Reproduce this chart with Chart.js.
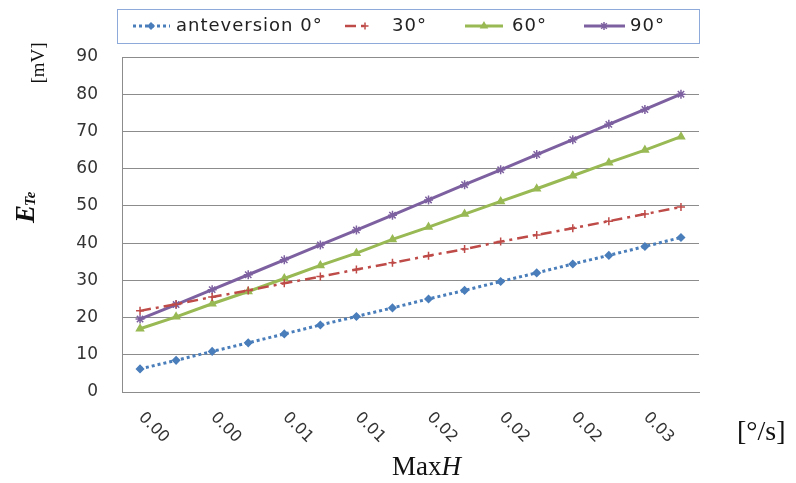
<!DOCTYPE html>
<html>
<head>
<meta charset="utf-8">
<script src="https://cdn.jsdelivr.net/npm/chart.js@4.4.1/dist/chart.umd.min.js"></script>
<style>
  html, body { margin: 0; padding: 0; background: #fff; }
  #wrap { width: 796px; height: 483px; position: relative; }
</style>
</head>
<body>
<div id="wrap"><canvas id="chart" width="796" height="483"></canvas></div>
<script>
// MaxH categories [°/s]
const maxH = ["0.000", "0.002", "0.004", "0.006", "0.008", "0.010", "0.012", "0.014",
              "0.016", "0.018", "0.020", "0.022", "0.024", "0.026", "0.028", "0.030"];
// shown every other category
const xTickLabels = ["0.00", "0.00", "0.01", "0.01", "0.02", "0.02", "0.02", "0.03"];
const yTicks = [0, 10, 20, 30, 40, 50, 60, 70, 80, 90];

// E_Te [mV]
const ante0  = [6.2, 8.5, 10.9, 13.2, 15.6, 18.0, 20.3, 22.6, 25.0, 27.3, 29.7, 32.0, 34.4, 36.7, 39.1, 41.5];
const ante30 = [21.8, 23.6, 25.5, 27.3, 29.2, 31.0, 32.9, 34.7, 36.6, 38.4, 40.4, 42.2, 44.0, 45.9, 47.8, 49.7];
const ante60 = [17.0, 20.2, 23.7, 27.0, 30.5, 34.0, 37.3, 41.0, 44.3, 47.8, 51.2, 54.6, 58.1, 61.6, 65.0, 68.6];
const ante90 = [19.6, 23.5, 27.5, 31.5, 35.5, 39.5, 43.5, 47.5, 51.6, 55.7, 59.7, 63.8, 67.8, 71.9, 75.9, 80.0];

const seriesNames = ["anteversion 0°", "30°", "60°", "90°"];

// legend layout (sample line start/end, marker x, text x)
const legendSlots = [
  { x1: 133, x2: 170, mx: 151, tx: 176 },
  { x1: 345, x2: 369, mx: 365, tx: 392 },
  { x1: 465, x2: 503, mx: 484, tx: 512 },
  { x1: 584, x2: 625, mx: 604, tx: 630 }
];

const decor = {
  id: "decor",
  afterDraw(chart) {
    const ctx = chart.ctx;
    const xs = chart.scales.x;

    // x tick labels, rotated clockwise
    ctx.save();
    ctx.fillStyle = "#333";
    ctx.font = "16px 'DejaVu Sans'";
    ctx.textAlign = "left";
    ctx.textBaseline = "middle";
    xTickLabels.forEach((lab, i) => {
      const x = xs.getPixelForValue(i * 2);
      ctx.save();
      ctx.translate(x + 1, 415);
      ctx.rotate(Math.PI / 4);
      ctx.fillText(lab, 0, 0);
      ctx.restore();
    });
    ctx.restore();

    // axis titles
    ctx.save();
    ctx.fillStyle = "#111";
    ctx.textBaseline = "alphabetic";
    // y: E_Te
    ctx.save();
    ctx.translate(34, 223);
    ctx.rotate(-Math.PI / 2);
    ctx.textAlign = "left";
    ctx.font = "italic bold 27px 'Liberation Serif'";
    ctx.fillText("E", 0, 0);
    const ew = ctx.measureText("E").width;
    ctx.font = "italic bold 15px 'Liberation Serif'";
    ctx.fillText("Te", ew - 1, 1);
    ctx.restore();
    // y unit
    ctx.save();
    ctx.translate(44, 63);
    ctx.rotate(-Math.PI / 2);
    ctx.textAlign = "center";
    ctx.font = "19px 'Liberation Serif'";
    ctx.fillText("[mV]", 0, 0);
    ctx.restore();
    // x: MaxH
    ctx.textAlign = "left";
    ctx.font = "27px 'Liberation Serif'";
    ctx.fillText("Max", 392, 475);
    const mw = ctx.measureText("Max").width;
    ctx.font = "italic 27px 'Liberation Serif'";
    ctx.fillText("H", 392 + mw, 475);
    // x unit
    ctx.font = "28px 'Liberation Serif'";
    ctx.fillText("[°/s]", 737, 440);
    ctx.restore();

    // legend
    ctx.save();
    ctx.strokeStyle = "#8eaadb";
    ctx.lineWidth = 1;
    ctx.strokeRect(117.5, 9.5, 582, 34);
    const ly = 26;
    chart.data.datasets.forEach((ds, i) => {
      const s = legendSlots[i];
      ctx.save();
      ctx.strokeStyle = ds.borderColor;
      ctx.lineWidth = ds.borderWidth;
      ctx.setLineDash(ds.borderDash || []);
      ctx.beginPath();
      ctx.moveTo(s.x1, ly);
      ctx.lineTo(s.x2, ly);
      ctx.stroke();
      ctx.setLineDash([]);
      ctx.fillStyle = ds.pointBackgroundColor;
      ctx.strokeStyle = ds.pointBorderColor;
      ctx.lineWidth = ds.pointBorderWidth;
      Chart.helpers.drawPoint(ctx, {
        pointStyle: ds.pointStyle, radius: ds.pointRadius - 0.5,
        rotation: 0, borderWidth: ds.pointBorderWidth
      }, s.mx, ly);
      ctx.restore();
      ctx.fillStyle = "#222";
      ctx.font = "18px 'DejaVu Sans'";
      ctx.letterSpacing = "1px";
      ctx.textAlign = "left";
      ctx.textBaseline = "middle";
      ctx.fillText(ds.label, s.tx, ly);
    });
    ctx.restore();
  }
};

function series(label, data, color, dash, style, radius, bw) {
  return {
    label: label,
    data: data,
    borderColor: color,
    backgroundColor: color,
    borderWidth: bw,
    borderDash: dash,
    pointStyle: style,
    pointRadius: radius,
    pointBackgroundColor: color,
    pointBorderColor: color,
    pointBorderWidth: 1.5,
    tension: 0,
    fill: false
  };
}

new Chart(document.getElementById("chart"), {
  type: "line",
  data: {
    labels: maxH,
    datasets: [
      series(seriesNames[0], ante0, "#4a7ebb", [3, 3], "rectRot", 3.5, 3),
      series(seriesNames[1], ante30, "#be4b48", [11, 5, 3, 5], "cross", 4, 2.5),
      series(seriesNames[2], ante60, "#98b954", [], "triangle", 4, 3),
      series(seriesNames[3], ante90, "#7d60a0", [], "star", 4.5, 3)
    ]
  },
  options: {
    responsive: false,
    animation: false,
    devicePixelRatio: 1,
    layout: { padding: { top: 57, right: 97, left: 0, bottom: 0 } },
    plugins: { legend: { display: false }, tooltip: { enabled: false } },
    scales: {
      x: {
        type: "category",
        offset: true,
        grid: { display: false },
        border: { display: true, color: "#8c8c8c", width: 1 },
        ticks: { display: false },
        afterFit: s => { s.height = 91; }
      },
      y: {
        min: 0,
        max: 90,
        afterBuildTicks: s => { s.ticks = yTicks.map(v => ({ value: v })); },
        ticks: { color: "#333", font: { family: "DejaVu Sans", size: 17 }, padding: 24 },
        grid: { color: "#8c8c8c", lineWidth: 1, drawTicks: false },
        border: { display: true, color: "#8c8c8c", width: 1 },
        afterFit: s => { s.width = 122; }
      }
    }
  },
  plugins: [decor]
});
</script>
</body>
</html>
